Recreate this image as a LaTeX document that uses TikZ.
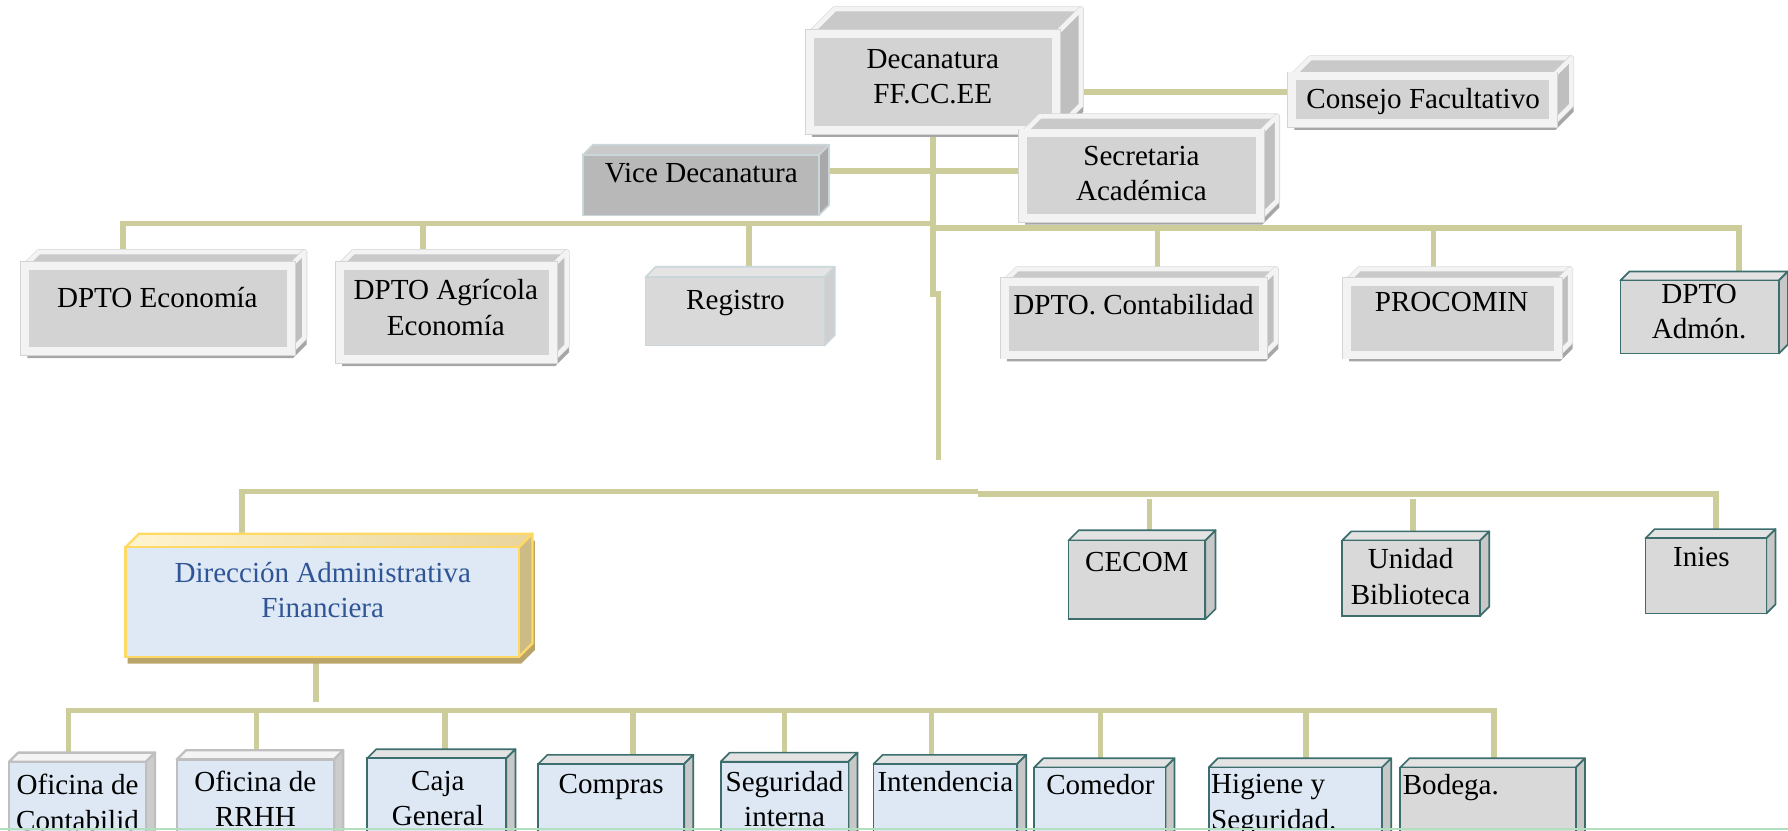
\documentclass[tikz,border=0pt]{standalone}
\usepackage{fontspec}
\setmainfont{Liberation Serif}
\usetikzlibrary{calc,backgrounds}

\definecolor{lineC}{HTML}{CDCD9B}
\definecolor{bevIn}{HTML}{D3D3D3}
\definecolor{bevFr}{HTML}{F3F3F3}
\definecolor{bevRim}{HTML}{D4D4D4}
\definecolor{bevTop}{HTML}{C9C9C9}
\definecolor{bevSide}{HTML}{BFBFBF}
\definecolor{bevShadow}{HTML}{A6A6A6}
\definecolor{tealC}{HTML}{3C6E6E}
\definecolor{boxGray}{HTML}{D9D9D9}
\definecolor{topGray}{HTML}{E3E3E3}
\definecolor{sideGray}{HTML}{C8C8C8}
\definecolor{paleBlue}{HTML}{DDE8F4}
\definecolor{viceFill}{HTML}{B8B8B8}
\definecolor{viceTop}{HTML}{C9C9C9}
\definecolor{viceSide}{HTML}{A9A9A9}
\definecolor{lightEdge}{HTML}{CBD6DA}
\definecolor{regTop}{HTML}{E4E4E4}
\definecolor{regSide}{HTML}{CFCFCF}
\definecolor{dirEdge}{HTML}{FFD966}
\definecolor{dirFill}{HTML}{DEE9F5}
\definecolor{dirTopL}{HTML}{FFF4CF}
\definecolor{dirTopR}{HTML}{E9D49B}
\definecolor{dirSide}{HTML}{CDBB86}
\definecolor{dirShadow}{HTML}{B9A46B}
\definecolor{dirText}{HTML}{2F5597}
\definecolor{ofEdge}{HTML}{BFBFBF}
\definecolor{ofTop}{HTML}{F4F4F4}
\definecolor{ofSide}{HTML}{CCCCCC}
\definecolor{greenLine}{HTML}{B2DFC0}

% #1 extra node options, #2 type, #3 name, #4 x1, #5 y1, #6 x2, #7 y2, #8 depth
\newcommand\mkcube[8][]{%
  \path[#2 shadow, shift={(2,6)}] (#4,#7) -- (#4,#5) -- ({#4+#8},{#5-#8}) -- ({#6+#8},{#5-#8}) -- ({#6+#8},{#7-#8}) -- (#6,#7) -- cycle;
  \path[#2 top] (#4,#5) -- ({#4+#8},{#5-#8}) -- ({#6+#8},{#5-#8}) -- (#6,#5) -- cycle;
  \path[#2 side] (#6,#5) -- ({#6+#8},{#5-#8}) -- ({#6+#8},{#7-#8}) -- (#6,#7) -- cycle;
  \node[#2, outer sep=0pt, inner sep=0pt, minimum width={(#6-#4)*1pt}, minimum height={(#7-#5)*1pt}, #1] (#3) at ({(#4+#6)/2},{(#5+#7)/2}) {};
}

\begin{document}
\begin{tikzpicture}[x=1pt,y=-1pt,
  conn/.style={draw=lineC, line width=5pt, line join=miter},
  txt/.style={font=\fontsize{25.5}{31}\selectfont, align=center, inner sep=0pt, anchor=north},
  txtl/.style={txt, align=left, anchor=north west},
  face/.style={line join=round},
  bev/.style={fill=bevIn, draw=bevFr, line width=7pt, preaction={draw=bevRim, line width=8.5pt}},
  bev top/.style={face, fill=bevTop, draw=bevFr, line width=4pt, preaction={draw=bevRim, line width=5pt, line join=round}},
  bev side/.style={face, fill=bevSide, draw=bevFr, line width=4pt, preaction={draw=bevRim, line width=5pt, line join=round}},
  bev shadow/.style={fill=bevShadow},
  vice/.style={fill=viceFill, draw=lightEdge, line width=1.5pt},
  vice top/.style={face, fill=viceTop, draw=lightEdge, line width=1.5pt},
  vice side/.style={face, fill=viceSide, draw=lightEdge, line width=1.5pt},
  vice shadow/.style={},
  reg/.style={fill=boxGray, draw=lightEdge, line width=1.5pt},
  reg top/.style={face, fill=regTop, draw=lightEdge, line width=1.5pt},
  reg side/.style={face, fill=regSide, draw=lightEdge, line width=1.5pt},
  reg shadow/.style={},
  teal/.style={fill=boxGray, draw=tealC, line width=1.5pt},
  teal top/.style={face, fill=topGray, draw=tealC, line width=1.5pt},
  teal side/.style={face, fill=sideGray, draw=tealC, line width=1.5pt},
  teal shadow/.style={},
  tealb/.style={fill=paleBlue, draw=tealC, line width=1.5pt},
  tealb top/.style={face, fill=topGray, draw=tealC, line width=1.5pt},
  tealb side/.style={face, fill=sideGray, draw=tealC, line width=1.5pt},
  tealb shadow/.style={},
  ofc/.style={fill=paleBlue, draw=ofEdge, line width=2pt},
  ofc top/.style={face, fill=ofTop, draw=ofEdge, line width=2pt},
  ofc side/.style={face, fill=ofSide, draw=ofEdge, line width=2pt},
  ofc shadow/.style={},
  dirbox/.style={fill=dirFill, draw=dirEdge, line width=2pt},
  dirbox top/.style={face, left color=dirTopL, right color=dirTopR, draw=dirEdge, line width=2pt},
  dirbox side/.style={face, fill=dirSide, draw=dirEdge, line width=2pt},
  dirbox shadow/.style={fill=dirShadow},
]
\useasboundingbox (0,0) rectangle (1568,728);
\clip (0,0) rectangle (1568,728);

% boxes
\mkcube{bev}{dec}{710}{30}{926}{114}{22}
\mkcube{bev}{cons}{1133}{67}{1362}{108}{16}
\mkcube{vice}{vice}{511}{136}{718}{189}{9}
\mkcube{bev}{sec}{897}{117}{1105}{191}{15}
\mkcube{bev}{eco}{22}{233}{255}{308}{12}
\mkcube{bev}{agr}{298}{233}{485}{315}{12}
\mkcube{reg}{reg}{566}{243}{723}{303}{9}
\mkcube{bev}{cont}{881}{247}{1108}{311}{11}
\mkcube{bev}{proc}{1181}{247}{1366}{311}{11}
\mkcube{teal}{adm}{1421}{246}{1560}{310}{8}
\mkcube{dirbox}{dir}{110}{480}{455}{576}{12}
\mkcube{teal}{cecom}{937}{474}{1057}{543}{9}
\mkcube{teal}{unid}{1177}{474}{1298}{540}{8}
\mkcube{teal}{inies}{1443}{472}{1549}{538}{8}
\mkcube{ofc}{ofc}{8}{668}{128}{745}{8}
\mkcube{ofc}{ofr}{155}{666}{293}{745}{8}
\mkcube{tealb}{caja}{322}{665}{444}{745}{8}
\mkcube{tealb}{compras}{472}{670}{600}{745}{8}
\mkcube{tealb}{seg}{632}{668}{744}{745}{8}
\mkcube[path picture={\fill[boxGray] (760,702) rectangle (900,750);}]{tealb}{intd}{766}{670}{892}{745}{8}
\mkcube{tealb}{com}{907}{673}{1022}{745}{8}
\mkcube{tealb}{hig}{1060}{673}{1212}{745}{8}
\mkcube{teal}{bod}{1228}{673}{1382}{745}{8}

% texts
\node[txt] (decT) at (818,43) {Decanatura\\FF.CC.EE};
\node[txt] (consT) at (1248,77) {Consejo Facultativo};
\node[txt] (viceT) at (615,143) {Vice Decanatura};
\node[txt] (secT) at (1001,128) {Secretaria\\Académica};
\node[txt] (ecoT) at (138,252) {DPTO Economía};
\node[txt] (agrT) at (391,245) {DPTO Agrícola\\Economía};
\node[txt] (regT) at (645,254) {Registro};
\node[txt] (contT) at (994,258) {DPTO. Contabilidad};
\node[txt] (procT) at (1273,256) {PROCOMIN};
\node[txt] (admT) at (1490,249) {DPTO\\Admón.};
\node[txt, text=dirText] (dirT) at (283,493) {Dirección Administrativa\\Financiera};
\node[txt] (cecomT) at (997,484) {CECOM};
\node[txt] (unidT) at (1237,481) {Unidad\\Biblioteca};
\node[txt] (iniesT) at (1492,480) {Inies};
\node[txt] (ofcT) at (68,679) {Oficina de\\Contabilid};
\node[txt] (ofrT) at (224,676) {Oficina de\\RRHH};
\node[txt] (cajaT) at (384,676) {Caja\\General};
\node[txt] (comprasT) at (536,679) {Compras};
\node[txt] (segT) at (688,676) {Seguridad\\interna};
\node[txt] (intT) at (829,676) {Intendencia};
\node[txt] (comT) at (965,679) {Comedor};
\node[txtl] (higT) at (1062,679) {Higiene y\\Seguridad.};
\node[txtl] (bodT) at (1230,679) {Bodega.};

% connectors
\begin{scope}[on background layer]
  \coordinate (j1) at ([yshift=7pt]cons.west);
  \draw[conn] (j1 -| dec.east) -- (j1);
  \coordinate (j2) at ([yshift=4pt]sec.west);
  \draw[conn] (j2 -| vice.east) -- (j2);
  \coordinate (k1) at (dec.south |- 0,258);
  \draw[conn] (dec.south) -- (k1) -- ++(5,0) -- ++(0,145);
  % first level bus
  \coordinate (b1L) at (108,196);
  \coordinate (b1M) at (dec.south |- 0,196);
  \draw[conn] (b1L |- eco.north) -- (b1L) -- (b1M);
  \coordinate (tAgr) at (371,196);
  \draw[conn] (tAgr) -- (tAgr |- agr.north);
  \coordinate (tReg) at (657,196);
  \draw[conn] (tReg) -- (tReg |- reg.north);
  \coordinate (b1N) at (dec.south |- 0,200);
  \coordinate (b1R) at (1525,200);
  \draw[conn] (b1N) -- (b1R) -- (b1R |- adm.north);
  \coordinate (tCont) at (1015,200);
  \draw[conn] (tCont) -- (tCont |- cont.north);
  \coordinate (tProc) at (1257,200);
  \draw[conn] (tProc) -- (tProc |- proc.north);
  % second level bus
  \coordinate (b2L) at (212,431);
  \coordinate (b2M) at (858,431);
  \draw[conn] (b2L |- dir.north) -- (b2L) -- (b2M);
  \coordinate (b2N) at (858,433);
  \coordinate (b2R) at (1505,433);
  \draw[conn] (b2N) -- (b2R) -- (b2R |- inies.north);
  \coordinate (tCecom) at (1008,438);
  \draw[conn] (tCecom) -- (tCecom |- cecom.north);
  \coordinate (tUnid) at (1239,438);
  \draw[conn] (tUnid) -- (tUnid |- unid.north);
  % third level bus
  \coordinate (dd) at (277,616);
  \draw[conn] (dd |- dir.south) -- (dd);
  \coordinate (b3L) at (60,623);
  \coordinate (b3R) at (1310,623);
  \draw[conn] (b3L |- ofc.north) -- (b3L) -- (b3R) -- (b3R |- bod.north);
  \coordinate (tOfr) at (225,623);
  \draw[conn] (tOfr) -- (tOfr |- ofr.north);
  \coordinate (tCaja) at (390,623);
  \draw[conn] (tCaja) -- (tCaja |- caja.north);
  \coordinate (tCompras) at (555,623);
  \draw[conn] (tCompras) -- (tCompras |- compras.north);
  \coordinate (tSeg) at (688,623);
  \draw[conn] (tSeg) -- (tSeg |- seg.north);
  \coordinate (tInt) at (817,623);
  \draw[conn] (tInt) -- (tInt |- intd.north);
  \coordinate (tCom) at (965,623);
  \draw[conn] (tCom) -- (tCom |- com.north);
  \coordinate (tHig) at (1145,623);
  \draw[conn] (tHig) -- (tHig |- hig.north);
\end{scope}

% thin green rule at the bottom edge
\draw[greenLine, line width=2pt] (0,727) -- (1568,727);
\end{tikzpicture}
\end{document}
